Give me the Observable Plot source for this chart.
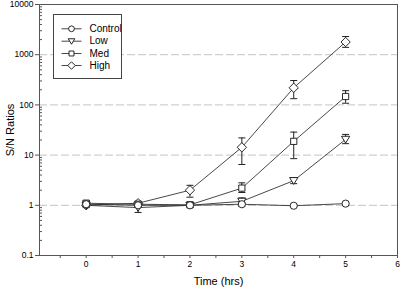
<!DOCTYPE html>
<html>
<head>
<meta charset="utf-8">
<script src="https://cdn.jsdelivr.net/npm/d3@7"></script>
<script src="https://cdn.jsdelivr.net/npm/@observablehq/plot@0.6"></script>
<style>
  html, body { margin: 0; padding: 0; background: #fff; }
  #chart svg { display: block; font-family: "Liberation Sans", Arial, sans-serif; }
</style>
</head>
<body>
<div id="chart"></div>
<script>
// ---- data ----
const times = [0, 1, 2, 3, 4, 5];
const seriesNames = ["Control", "Low", "Med", "High"];

const controlVals = [1.05, 1.0, 1.0, 1.05, 0.98, 1.08];
const controlLo   = [0.95, 0.93, 0.95, 0.97, 0.93, 1.02];
const controlHi   = [1.2, 1.08, 1.06, 1.13, 1.04, 1.14];

const lowVals = [1.0, 0.9, 1.0, 1.2, 3.1, 20.6];
const lowLo   = [0.9, 0.72, 0.95, 1.05, 2.7, 16.9];
const lowHi   = [1.15, 1.05, 1.08, 1.4, 3.55, 25.8];

const medVals = [1.1, 1.05, 1.02, 2.2, 18.8, 147];
const medLo   = [0.95, 0.95, 0.95, 1.8, 8.5, 108];
const medHi   = [1.25, 1.15, 1.1, 2.8, 28.7, 192];

const highVals = [1.0, 1.1, 2.0, 14.3, 219, 1790];
const highLo   = [0.95, 1.0, 1.45, 6.5, 133, 1400];
const highHi   = [1.15, 1.2, 2.5, 22, 306, 2300];

const yMajorTicks = [0.1, 1, 10, 100, 1000, 10000];
const yGridValues = [1, 10, 100, 1000];
const xMajorTicks = [0, 1, 2, 3, 4, 5, 6];
const xMinorTicks = [-0.5, 0.5, 1.5, 2.5, 3.5, 4.5, 5.5];

// ---- build tables ----
const valueSets = {
  Control: [controlVals, controlLo, controlHi],
  Low: [lowVals, lowLo, lowHi],
  Med: [medVals, medLo, medHi],
  High: [highVals, highLo, highHi]
};
const rows = seriesNames.map(name => times.map((t, i) => ({
  series: name, t, v: valueSets[name][0][i], lo: valueSets[name][1][i], hi: valueSets[name][2][i]
})));
const yMinorTicks = [];
for (const d of [0.1, 1, 10, 100, 1000]) for (let k = 2; k <= 9; k++) yMinorTicks.push(d * k);

// ---- custom symbols ----
const triangleDown = {
  draw(ctx, size) {
    const r = Math.sqrt(size / Math.PI);
    ctx.moveTo(-r * 1.15, -r * 0.85);
    ctx.lineTo(r * 1.15, -r * 0.85);
    ctx.lineTo(0, r * 1.05);
    ctx.closePath();
  }
};
const capSymbol = { draw(ctx) { ctx.moveTo(-3.5, 0); ctx.lineTo(3.5, 0); } };
const legendLine = { draw(ctx) { ctx.moveTo(-10, 0); ctx.lineTo(10, 0); } };

const styles = {
  Control: { symbol: "circle", r: 3.6 },
  Low: { symbol: triangleDown, r: 3.6 },
  Med: { symbol: "square", r: 3.5 },
  High: { symbol: "diamond2", r: 4.2 }
};

const FONT = "Liberation Sans, Arial, sans-serif";
const marks = [];

// gridlines
marks.push(Plot.ruleY(yGridValues, { stroke: "#c4c4c4", strokeWidth: 1, strokeDasharray: "8,3" }));

// lines + error bars + points
const drawOrder = ["High", "Med", "Low", "Control"];
for (const name of drawOrder) {
  const data = rows[seriesNames.indexOf(name)];
  marks.push(Plot.line(data, { x: "t", y: "v", stroke: "#333", strokeWidth: 0.9 }));
}
for (const name of drawOrder) {
  const data = rows[seriesNames.indexOf(name)];
  marks.push(Plot.ruleX(data, { x: "t", y1: "lo", y2: "hi", stroke: "#222", strokeWidth: 1 }));
  marks.push(Plot.dot(data, { x: "t", y: "lo", symbol: capSymbol, r: 3, stroke: "#222", fill: "none", strokeWidth: 1 }));
  marks.push(Plot.dot(data, { x: "t", y: "hi", symbol: capSymbol, r: 3, stroke: "#222", fill: "none", strokeWidth: 1 }));
}
for (const name of drawOrder) {
  const data = rows[seriesNames.indexOf(name)];
  const s = styles[name];
  marks.push(Plot.dot(data, { x: "t", y: "v", symbol: s.symbol, r: s.r, stroke: "#111", fill: "white", strokeWidth: 0.9 }));
}

// frame
marks.push(Plot.frame({ stroke: "#555", strokeWidth: 1 }));

// axes
marks.push(Plot.axisY(yMajorTicks, {
  tickSize: 4, tickPadding: 2, fontSize: 8.5, tickFormat: d => String(d), label: null, stroke: "#555"
}));
marks.push(Plot.tickY(yMinorTicks, { y: d => d, insetRight: 355, stroke: "#555" }));
marks.push(Plot.axisX(xMajorTicks, {
  tickSize: 3, tickPadding: 2, fontSize: 8.5, tickFormat: d => String(d), label: null, stroke: "#555"
}));
marks.push(Plot.axisX(xMinorTicks, {
  tickSize: 3, tickFormat: () => "", label: null, stroke: "#555"
}));

// axis titles
marks.push(Plot.text(["Time (hrs)"], { frameAnchor: "bottom", dy: 26, fontSize: 11, lineAnchor: "middle", fill: "#000", text: d => d }));
marks.push(Plot.text(["S/N Ratios"], { frameAnchor: "left", dx: -29, rotate: -90, fontSize: 11, lineAnchor: "middle", textAnchor: "middle", fill: "#000", text: d => d }));

// legend
marks.push(Plot.frame({ fill: "white", stroke: "#444", strokeWidth: 1, insetLeft: 14, insetTop: 10, insetRight: 276, insetBottom: 177 }));
const legendDy = [24.3, 36.7, 49, 61];
seriesNames.forEach((name, i) => {
  const s = styles[name];
  marks.push(Plot.dot([name], { frameAnchor: "top-left", dx: 32, dy: legendDy[i], symbol: legendLine, r: 3, stroke: "#333", strokeWidth: 0.9 }));
  marks.push(Plot.dot([name], { frameAnchor: "top-left", dx: 32, dy: legendDy[i], symbol: s.symbol, r: s.r * 0.8, stroke: "#111", fill: "white", strokeWidth: 0.9 }));
  marks.push(Plot.text([name], { frameAnchor: "top-left", dx: 50, dy: legendDy[i], text: d => d, fontSize: 10, lineAnchor: "middle", textAnchor: "start", fill: "#000" }));
});

const chart = Plot.plot({
  width: 400,
  height: 288,
  marginLeft: 39,
  marginRight: 3,
  marginTop: 4,
  marginBottom: 33,
  style: { fontFamily: FONT, background: "white", color: "#000" },
  x: { domain: [-0.9, 6], axis: null },
  y: { type: "log", domain: [0.1, 10000], axis: null },
  marks
});
document.getElementById("chart").appendChild(chart);
</script>
</body>
</html>
